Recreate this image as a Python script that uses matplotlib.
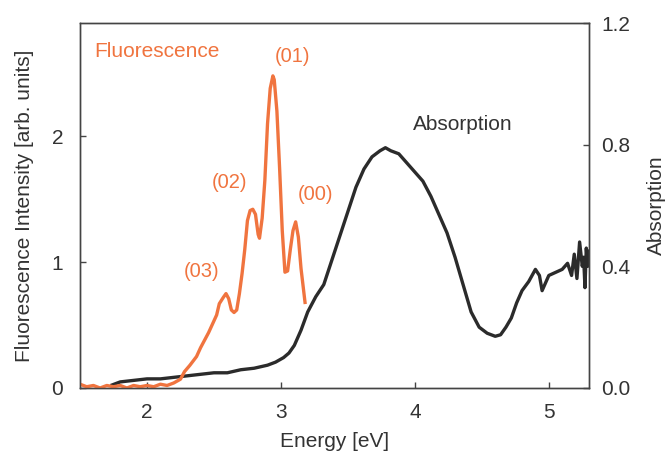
import numpy as np
import matplotlib.pyplot as plt

plt.rcParams['font.family'] = ['Liberation Sans', 'DejaVu Sans']

# Fluorescence spectrum (left axis)
fl_energy = [1.50, 1.55, 1.60, 1.65, 1.70, 1.75, 1.80, 1.85, 1.90, 1.95, 2.00, 2.05, 2.10,
             2.15, 2.20, 2.25, 2.28, 2.32, 2.37, 2.40, 2.43, 2.46, 2.49, 2.52, 2.54, 2.57,
             2.59, 2.61, 2.63, 2.65, 2.67, 2.69, 2.71, 2.73, 2.75, 2.77, 2.79, 2.81, 2.83,
             2.84, 2.86, 2.88, 2.90, 2.92, 2.94, 2.95, 2.97, 2.99, 3.01, 3.03, 3.05, 3.07,
             3.09, 3.11, 3.13, 3.15, 3.18]
fl_int = [0.03, 0.01, 0.02, 0.00, 0.02, 0.01, 0.02, 0.00, 0.02, 0.01, 0.02, 0.01, 0.03,
          0.02, 0.04, 0.07, 0.13, 0.18, 0.25, 0.32, 0.38, 0.44, 0.51, 0.58, 0.67, 0.72,
          0.75, 0.71, 0.62, 0.60, 0.62, 0.75, 0.91, 1.10, 1.33, 1.41, 1.42, 1.38, 1.22,
          1.19, 1.35, 1.65, 2.10, 2.38, 2.48, 2.45, 2.20, 1.75, 1.25, 0.92, 0.93, 1.10,
          1.25, 1.32, 1.20, 0.95, 0.68]

# Absorption spectrum (right axis)
ab_energy = [1.74, 1.80, 1.90, 2.00, 2.10, 2.20, 2.30, 2.40, 2.50, 2.60, 2.70, 2.80, 2.90,
             2.96, 3.02, 3.06, 3.10, 3.15, 3.20, 3.26, 3.32, 3.38, 3.44, 3.50, 3.56, 3.62,
             3.68, 3.74, 3.78, 3.82, 3.88, 3.94, 4.00, 4.06, 4.12, 4.18, 4.24, 4.30, 4.36,
             4.42, 4.48, 4.54, 4.60, 4.64, 4.68, 4.72, 4.76, 4.80, 4.85, 4.90, 4.93, 4.95,
             5.00, 5.05, 5.10, 5.14, 5.17, 5.19, 5.21, 5.23, 5.25, 5.26, 5.27, 5.28, 5.29,
             5.30]
ab_val = [0.01, 0.02, 0.025, 0.03, 0.03, 0.035, 0.04, 0.045, 0.05, 0.05, 0.06, 0.065, 0.075,
          0.085, 0.10, 0.115, 0.14, 0.19, 0.25, 0.30, 0.34, 0.42, 0.50, 0.58, 0.66, 0.72,
          0.76, 0.78, 0.79, 0.78, 0.77, 0.74, 0.71, 0.68, 0.63, 0.57, 0.51, 0.43, 0.34,
          0.25, 0.20, 0.18, 0.17, 0.175, 0.20, 0.23, 0.28, 0.32, 0.35, 0.39, 0.37, 0.32,
          0.37, 0.38, 0.39, 0.41, 0.37, 0.44, 0.36, 0.48, 0.40, 0.43, 0.33, 0.46, 0.40,
          0.45]

peak_labels = ['(03)', '(02)', '(01)', '(00)']
peak_pos = [(2.41, 0.925), (2.615, 1.63), (3.085, 2.63), (3.255, 1.54)]

orange = '#f0743f'
dark = '#2b2b2b'
txt = '#333333'

fig = plt.figure(figsize=(6.69, 4.53), dpi=100)
ax1 = fig.add_axes([0.1196, 0.1435, 0.7608, 0.8057])
ax2 = ax1.twinx()

ax2.plot(ab_energy, ab_val, color=dark, lw=2.4)
ax1.plot(fl_energy, fl_int, color=orange, lw=2.4)
ax1.set_zorder(ax2.get_zorder() + 1)
ax1.patch.set_visible(False)

ax1.set_xlim(1.5, 5.3)
ax1.set_ylim(0, 2.9)
ax2.set_ylim(0, 1.2)
ax1.set_xticks([2, 3, 4, 5])
ax1.set_yticks([0, 1, 2])
ax2.set_yticks([0.0, 0.4, 0.8, 1.2])
ax2.set_yticklabels(['0.0', '0.4', '0.8', '1.2'])

for a in (ax1, ax2):
    for s in a.spines.values():
        s.set_color('#444444')
        s.set_linewidth(1.0)
ax1.tick_params(axis='x', direction='in', length=4, width=1, colors='#444444',
                labelsize=15, labelcolor=txt, pad=11)
ax1.tick_params(axis='y', direction='in', length=4, width=1, colors='#444444',
                labelsize=15, labelcolor=txt, pad=12)
ax2.tick_params(axis='y', direction='in', length=4, width=1, colors='#444444',
                labelsize=15, labelcolor=txt, pad=9)

ax1.set_xlabel('Energy [eV]', fontsize=15, color=txt, labelpad=7)
ax1.set_ylabel('Fluorescence Intensity [arb. units]', fontsize=15, color=txt, labelpad=13)
ax2.set_ylabel('Absorption', fontsize=15, color=txt, labelpad=12)

ax1.text(1.61, 2.67, 'Fluorescence', color=orange, fontsize=15, va='center', ha='left')
for lab, (x, y) in zip(peak_labels, peak_pos):
    ax1.text(x, y, lab, color=orange, fontsize=14.5, ha='center', va='center')
ax2.text(4.36, 0.865, 'Absorption', color=txt, fontsize=15, ha='center', va='center')

fig.savefig('out.png', dpi=100)
